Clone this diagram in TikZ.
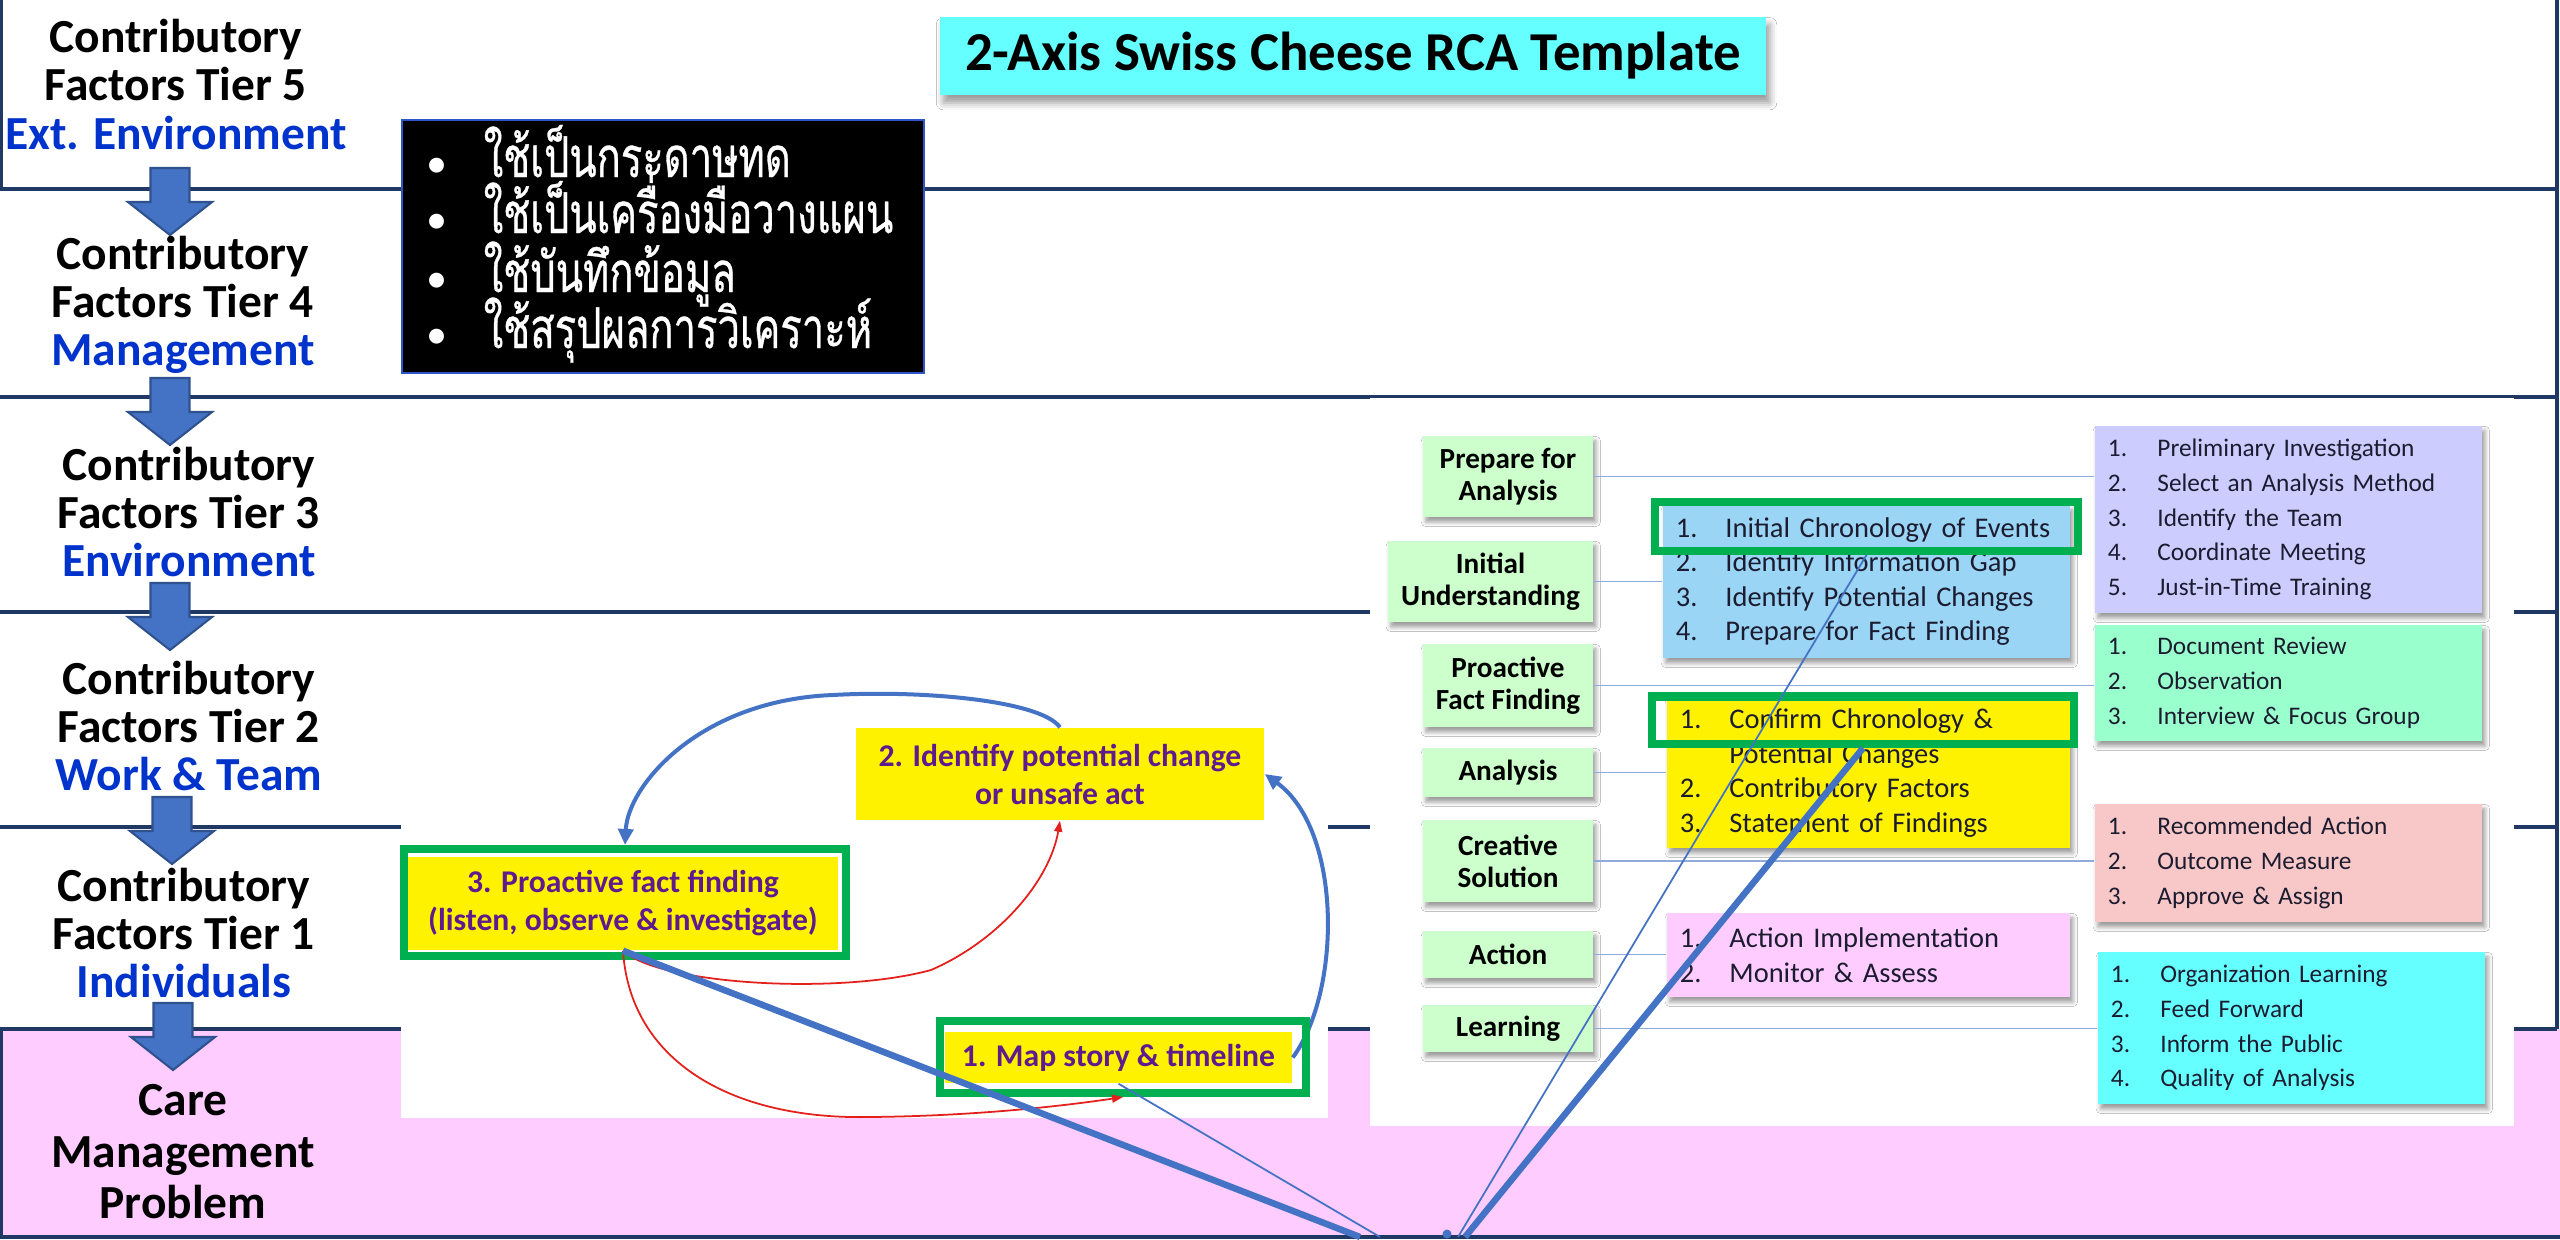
\documentclass[tikz,border=0pt]{standalone}
\usepackage{fontspec}
\setmainfont{Carlito}
\newfontfamily\thaifont[Script=Thai,FakeStretch=0.71,FakeBold=0.6]{Loma}
\usetikzlibrary{arrows.meta,shadows.blur}

\definecolor{navy}{HTML}{1F3864}
\definecolor{arrowblue}{HTML}{4472C4}
\definecolor{arrowedge}{HTML}{2F528F}
\definecolor{tierblue}{HTML}{0033CC}
\definecolor{bandpink}{HTML}{FFCCFF}
\definecolor{titlecyan}{HTML}{66FFFF}
\definecolor{framegreen}{HTML}{00B050}
\definecolor{loopviolet}{HTML}{5E1B8E}
\definecolor{loopred}{HTML}{E3201B}
\definecolor{stepgreen}{HTML}{CCFFCC}
\definecolor{listblue}{HTML}{9BD5F5}
\definecolor{listlav}{HTML}{CCCCFF}
\definecolor{listmint}{HTML}{99FFCC}
\definecolor{listrose}{HTML}{F8C8C8}
\definecolor{listpink}{HTML}{FFCCFF}
\definecolor{listcyan}{HTML}{66FFFF}
\definecolor{linkgrey}{HTML}{8FAADC}
\definecolor{listtext}{HTML}{1C1C30}
\definecolor{memoedge}{HTML}{2F55C8}

% number column of the step lists
\newcommand\listnum[1]{\makebox[0.495cm][l]{#1}}
% bullet column of the note box
\newcommand\memobullet{\makebox[0.57cm][l]{\rmfamily\fontsize{12}{12}\selectfont •}}

\tikzset{
  bandline/.style={draw=navy, line width=0.04cm},
  tierlabel/.style={align=center, inner sep=0, font=\fontsize{13.5}{13.66}\selectfont\bfseries},
  tierarrow/.pic={\draw[fill=arrowblue, draw=arrowedge, line width=0.6pt]
      (-19.5,0) -- (19.5,0) -- (19.5,34) -- (42,34) -- (0,67) -- (-42,34) -- (-19.5,34) -- cycle;},
  softshadow/.style={blur shadow={shadow xshift=0.8pt, shadow yshift=-1.4pt,
      shadow blur radius=1.3pt, shadow opacity=40}},
  thailine/.style={text=white, inner sep=0, anchor=base west,
      font=\thaifont\fontsize{16}{17}\selectfont},
  loopbox/.style={fill=yellow, text=loopviolet, align=center, inner sep=0,
      font=\fontsize{9}{10.8}\selectfont\bfseries},
  gframe/.style={draw=framegreen, line width=0.085cm, inner sep=0},
  stepbox/.style={fill=stepgreen, align=center, inner sep=0, softshadow,
      font=\fontsize{8.3}{9.1}\selectfont\bfseries},
  listbox/.style={align=left, text=listtext, inner xsep=0.13cm, inner ysep=0,
      softshadow, font=\fontsize{8.1}{9.8}\selectfont},
  widelist/.style={listbox, font=\fontsize{7.2}{9.9}\selectfont},
  link/.style={draw=linkgrey, line width=0.45pt},
  bluecurve/.style={draw=arrowblue, line width=0.04cm,
      -{Triangle[length=0.16cm,width=0.15cm]}},
  redcurve/.style={draw=loopred, line width=0.5pt,
      -{Triangle[length=0.11cm,width=0.08cm]}},
  axisthick/.style={draw=arrowblue, line width=0.065cm},
  axisthin/.style={draw=arrowblue, line width=0.5pt},
}

\begin{document}
\begin{tikzpicture}[x=0.01cm, y=-0.01cm]
\useasboundingbox[fill=white] (0,0) rectangle (2560,1239);

% ---- tier bands ----
\fill[bandpink] (0,1029) rectangle (2560,1239);
\foreach \yy in {189,397,612,827,1029}
  \draw[bandline] (0,\yy) -- (2557,\yy);
\draw[bandline] (0,1237) -- (2560,1237);
\draw[bandline] (1,0) -- (1,189);
\draw[bandline] (1,1029) -- (1,1239);
\draw[bandline] (2557,0) -- (2557,1029);

% ---- white panels carrying the two process charts ----
\fill[white] (401,650) rectangle (1328,1118);
\fill[white] (1370,397.5) rectangle (2514,1126);

% ---- title ----
\node (title) [fill=titlecyan, minimum width=8.26cm, minimum height=0.78cm, inner sep=0,
  blur shadow={shadow xshift=1pt, shadow yshift=-2.2pt, shadow blur radius=2pt, shadow opacity=40},
  font=\fontsize{15.6}{18}\selectfont\bfseries] at (1353,56) {2-Axis Swiss Cheese RCA Template};

% ---- note box ----
\node (memo) [fill=black, draw=memoedge, line width=0.02cm, minimum width=5.22cm,
  minimum height=2.53cm, inner sep=0] at (663,246.5) {};
\node (memo1) [thailine] at (426,177) {\memobullet ใช้เป็นกระดาษทด};
\node (memo2) [thailine] at (426,233) {\memobullet ใช้เป็นเครื่องมือวางแผน};
\node (memo3) [thailine] at (426,292) {\memobullet ใช้บันทึกข้อมูล};
\node (memo4) [thailine] at (426,348) {\memobullet ใช้สรุปผลการวิเคราะห์};

% ---- tier labels and arrows ----
\node (tier5) [tierlabel] at (176,84.5) {Contributory\\Factors Tier 5\\\textcolor{tierblue}{Ext. Environment}};
\node (tier4) [tierlabel] at (183,304.5) {Contributory\\Factors Tier 4\\\textcolor{tierblue}{Management}};
\node (tier3) [tierlabel] at (189,512) {Contributory\\Factors Tier 3\\\textcolor{tierblue}{Environment}};
\node (tier2) [tierlabel] at (189,726) {Contributory\\Factors Tier 2\\\textcolor{tierblue}{Work \& Team}};
\node (tier1) [tierlabel] at (184,933) {Contributory\\Factors Tier 1\\\textcolor{tierblue}{Individuals}};
\node (care) [tierlabel, font=\fontsize{13.5}{14.65}\selectfont\bfseries] at (183,1152) {Care\\Management\\Problem};
\pic at (170,168) {tierarrow};
\pic at (170,378) {tierarrow};
\pic at (170,583) {tierarrow};
\pic at (172,797) {tierarrow};
\pic at (173,1003) {tierarrow};

% ---- investigation loop ----
\node (b2) [loopbox, minimum width=4.08cm, minimum height=0.92cm] at (1060,774)
  {2. Identify potential change\\or unsafe act};
\node (b3) [loopbox, minimum width=4.30cm, minimum height=0.93cm] at (623,903.5)
  {3. Proactive fact finding\\(listen, observe \& investigate)};
\node (b1) [loopbox, minimum width=3.47cm, minimum height=0.51cm] at (1118.5,1057.5)
  {1. Map story \& timeline};
\draw[bluecurve] (b1.east) .. controls (1342,990) and (1342,830) .. (b2.east);
\node (fr3) [gframe, minimum width=4.415cm, minimum height=1.065cm] at (625,902.5) {};
\node (fr4) [gframe, minimum width=3.655cm, minimum height=0.715cm] at (1123,1057) {};
\draw[bluecurve] (b2.north) .. controls (1040,700) and (920,690) .. (833,695)
  .. controls (700,700) and (628,785) .. (fr3.north);
\draw[redcurve] (b3.south) .. controls (660,985) and (840,995) .. (931,970)
  .. controls (1000,940) and (1050,880) .. (b2.south);
\draw[redcurve] (b3.south) .. controls (630,1060) and (730,1120) .. (870,1117)
  .. controls (980,1116) and (1070,1105) .. (fr4.south);

% ---- RCA steps ----
\node (s1) [stepbox, minimum width=1.70cm, minimum height=0.81cm] at (1508,476.5) {Prepare for\\Analysis};
\node (s2) [stepbox, minimum width=2.05cm, minimum height=0.81cm] at (1490.5,581.5) {Initial\\Understanding};
\node (s3) [stepbox, minimum width=1.70cm, minimum height=0.83cm] at (1508,685.5) {Proactive\\Fact Finding};
\node (s4) [stepbox, minimum width=1.70cm, minimum height=0.49cm] at (1508,772.5) {Analysis};
\node (s5) [stepbox, minimum width=1.70cm, minimum height=0.82cm] at (1508,861) {Creative\\Solution};
\node (s6) [stepbox, minimum width=1.70cm, minimum height=0.47cm] at (1508,954.5) {Action};
\node (s7) [stepbox, minimum width=1.70cm, minimum height=0.47cm] at (1508,1028.5) {Learning};

\node (l1) [widelist, fill=listlav, minimum width=3.87cm, minimum height=1.87cm, text width=3.61cm]
  at (2288.5,519.5) {\listnum{1.}Preliminary Investigation\\\listnum{2.}Select an Analysis Method\\
  \listnum{3.}Identify the Team\\\listnum{4.}Coordinate Meeting\\\listnum{5.}Just-in-Time Training};
\node (l2) [listbox, fill=listblue, minimum width=4.07cm, minimum height=1.53cm, text width=3.81cm]
  at (1866.5,581.5) {\listnum{1.}Initial Chronology of Events\\\listnum{2.}Identify Information Gap\\
  \listnum{3.}Identify Potential Changes\\\listnum{4.}Prepare for Fact Finding};
\node (l3) [widelist, fill=listmint, minimum width=3.87cm, minimum height=1.16cm, text width=3.61cm]
  at (2288.5,683) {\listnum{1.}Document Review\\\listnum{2.}Observation\\\listnum{3.}Interview \& Focus Group};
\node (l4) [listbox, fill=yellow, minimum width=4.03cm, minimum height=1.50cm, text width=3.77cm]
  at (1868.5,773) {\listnum{1.}Confirm Chronology \&\\\listnum{}Potential Changes\\
  \listnum{2.}Contributory Factors\\\listnum{3.}Statement of Findings};
\node (l5) [widelist, fill=listrose, minimum width=3.87cm, minimum height=1.18cm, text width=3.61cm]
  at (2288.5,863) {\listnum{1.}Recommended Action\\\listnum{2.}Outcome Measure\\\listnum{3.}Approve \& Assign};
\node (l6) [listbox, fill=listpink, minimum width=4.03cm, minimum height=0.84cm, text width=3.77cm]
  at (1868.5,955) {\listnum{1.}Action Implementation\\\listnum{2.}Monitor \& Assess};
\node (l7) [widelist, fill=listcyan, minimum width=3.87cm, minimum height=1.52cm, text width=3.61cm]
  at (2291.5,1028) {\listnum{1.}Organization Learning\\\listnum{2.}Feed Forward\\
  \listnum{3.}Inform the Public\\\listnum{4.}Quality of Analysis};

\foreach \st/\ls in {s1/l1,s2/l2,s3/l3,s4/l4,s5/l5,s6/l6,s7/l7}
  \draw[link] (\st.east) -- (\st.east -| \ls.west);

\node (fr1) [gframe, minimum width=4.225cm, minimum height=0.485cm] at (1866.5,526.5) {};
\node (fr2) [gframe, minimum width=4.215cm, minimum height=0.475cm] at (1863,720) {};

% ---- the two axes meeting at the care problem ----
\coordinate (endA) at (1360,1237);
\coordinate (endB) at (1380,1237);
\coordinate (endC) at (1458,1237);
\coordinate (endD) at (1465,1237);
\node (hub) [circle, fill=arrowblue, minimum size=0.09cm, inner sep=0] at (1447,1234) {};
\draw[axisthick] (b3.south) -- (endA);
\draw[axisthin] (b1.south) -- (endB);
\draw[axisthin] (endC) -- (fr1.south);
\draw[axisthick] (endD) -- (fr2.south);
\end{tikzpicture}
\end{document}
